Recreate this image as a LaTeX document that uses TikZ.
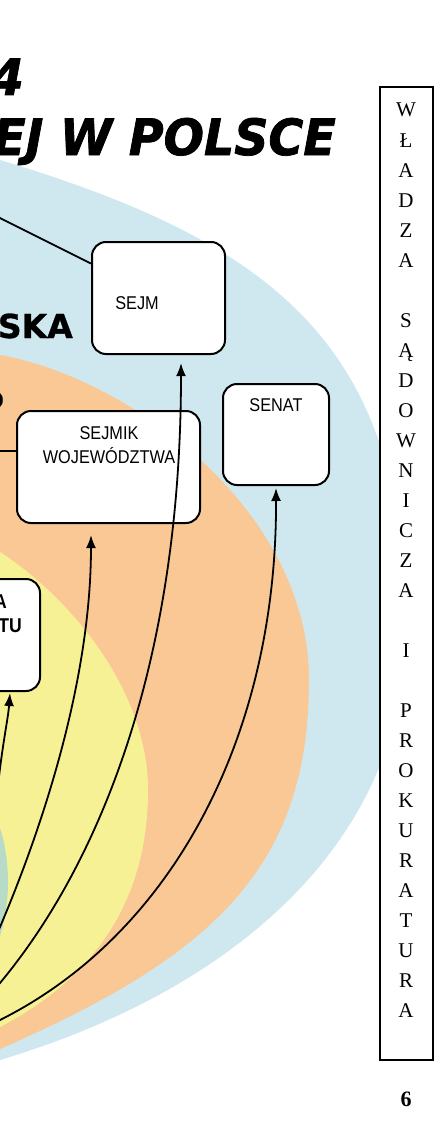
\documentclass[tikz,border=0pt]{standalone}
\usepackage{fontspec}
\setmainfont{Liberation Serif}
\newfontfamily\boxfont[FakeStretch=0.88]{Liberation Sans}
\newfontfamily\titlefont[FakeStretch=0.95,FakeBold=1.5]{DejaVu Sans}
\newfontfamily\headfont[FakeBold=1]{DejaVu Sans}
\usetikzlibrary{arrows.meta,calc}
\definecolor{bgblue}{RGB}{207,232,240}
\definecolor{bgorange}{RGB}{249,200,148}
\definecolor{bgyellow}{RGB}{247,241,150}
\definecolor{bggreen}{RGB}{184,219,200}
\begin{document}
\begin{tikzpicture}[x=1pt,y=-1pt,
  box/.style={draw=black, fill=white, line width=2pt, rounded corners=14pt, inner sep=0pt},
  boxtext/.style={font=\boxfont\fontsize{18.5}{24}\selectfont, inner sep=0pt, align=center},
  arr/.style={line width=1.8pt, -{Latex[length=13pt,width=10pt]}},
  conn/.style={line width=1.8pt},
  letter/.style={font=\fontsize{21}{21}\selectfont, anchor=base, inner sep=0pt},
  titletext/.style={font=\titlefont\bfseries\itshape\fontsize{50}{50}\selectfont, inner sep=0pt, anchor=base east}]
\useasboundingbox (0,0) rectangle (447,1129);
\clip (0,0) rectangle (447,1129);
% background zones
\fill[bgblue] (-80,145) -- (0,160) .. controls (280,244) and (406,350) .. (406,630)
   .. controls (406,830) and (250,985) .. (0,1060) -- (-80,1080) -- cycle;
\fill[bgorange] (-80,340) -- (0,355) .. controls (130,378) and (309,510) .. (309,680)
   .. controls (309,870) and (210,957) .. (0,1049) -- (-80,1084) -- cycle;
\fill[bgyellow] (-60,515) -- (0,552) .. controls (70,597.5) and (148,690) .. (148,790)
   .. controls (148,900) and (95,977.6) .. (0,1027) -- (-60,1058) -- cycle;
\fill[bggreen] (-60,882) ellipse [x radius=68, y radius=115];
% title texts
\node[titletext] (title1) at (24,95) {4};
\node[titletext] (title2) at (336,155) {EJ W POLSCE};
\node[font=\headfont\bfseries\fontsize{33}{33}\selectfont, inner sep=0pt, anchor=base east] (ska) at (73,338) {SKA};
\node[font=\headfont\bfseries\fontsize{22}{22}\selectfont, inner sep=0pt, anchor=base east] (frag) at (4,408) {O};
% boxes
\node[box, minimum width=133pt, minimum height=112pt] (sejm) at (158.5,298) {};
\node[box, minimum width=106pt, minimum height=101pt] (senat) at (276,434.5) {};
\node[box, minimum width=183pt, minimum height=112pt] (sejmik) at (108.5,467) {};
\node[box, minimum width=110pt, minimum height=112pt] (lbox) at (-15,635) {};
% plain connectors
\coordinate (l1s) at (-4,216);
\draw[conn] (l1s) -- (sejm.153);
\coordinate (l2s) at (-4,451);
\draw[conn] (l2s) -- (l2s -| sejmik.west);
% box texts
\node[boxtext, anchor=base] (sejmt) at (137,309.6) {SEJM};
\node[boxtext, anchor=base] (senatt) at (276,411.6) {SENAT};
\node[boxtext, anchor=north] (sejmikt) at (109,426.4) {SEJMIK\\WOJEWÓDZTWA};
\node[font=\boxfont\bfseries\fontsize{20}{20}\selectfont, inner sep=0pt, anchor=base east] (lbt1) at (7,608) {A};
\node[font=\boxfont\bfseries\fontsize{20}{20}\selectfont, inner sep=0pt, anchor=base east] (lbt2) at (22,632) {TU};
% curved arrows
\coordinate (a1s) at (-3,795);
\coordinate (a1e) at ([xshift=25pt,yshift=-1pt]lbox.south);
\draw[arr] (a1s) .. controls (2,745) and (8,720) .. (a1e);
\coordinate (a2s) at (-10,950);
\coordinate (a2e) at ([xshift=-17.5pt,yshift=-11pt]sejmik.south);
\draw[arr] (a2s) -- (0,927) .. controls (40,833) and (91,684) .. (a2e);
\coordinate (a3s) at (-20,1007);
\coordinate (a3e) at ([xshift=22.5pt,yshift=-8pt]sejm.south);
\draw[arr] (a3s) -- (0,983) .. controls (100,863) and (181,662) .. (a3e);
\coordinate (a4s) at (-20,1030);
\coordinate (a4e) at ([yshift=-2pt]senat.south);
\draw[arr] (a4s) -- (0,1020) .. controls (170,935) and (277,739) .. (a4e);
% right frame
\node[draw=black, fill=white, line width=2pt, minimum width=53pt, minimum height=973pt, inner sep=0pt] (sad) at (406.5,573.5) {};
\foreach \ch/\i in {W/0,Ł/1,A/2,D/3,Z/4,A/5,S/7,Ą/8,D/9,O/10,W/11,N/12,I/13,C/14,Z/15,A/16,I/18,P/20,R/21,O/22,K/23,U/24,R/25,A/26,T/27,U/28,R/29,A/30}
  \node[letter] (L\i) at (406,{117+30*\i}) {\ch};
\node[font=\bfseries\fontsize{22}{22}\selectfont, anchor=base, inner sep=0pt] (pg) at (406,1106) {6};
\end{tikzpicture}
\end{document}
